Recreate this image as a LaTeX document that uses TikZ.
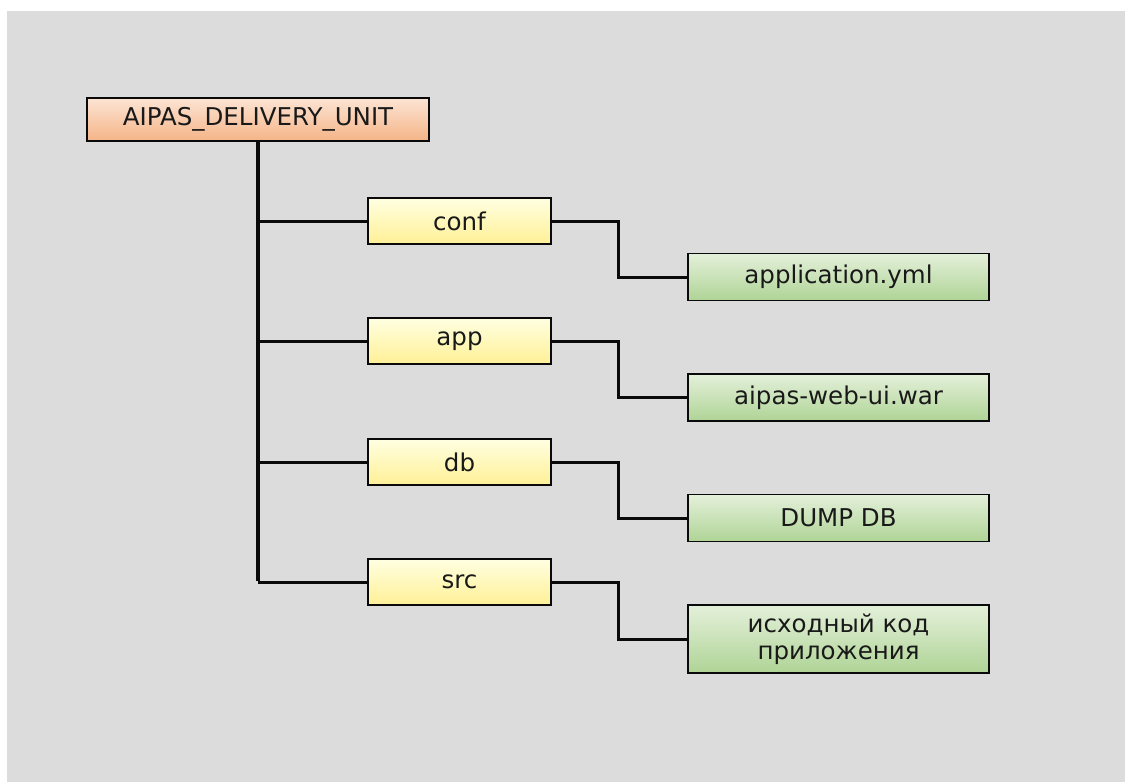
\documentclass[tikz,border=0pt]{standalone}
\usepackage{fontspec}
\setmainfont{DejaVu Sans}
\definecolor{bg}{RGB}{220,220,220}
\definecolor{rootTop}{RGB}{252,228,212}
\definecolor{rootBot}{RGB}{245,180,135}
\definecolor{yelTop}{RGB}{255,255,225}
\definecolor{yelBot}{RGB}{255,240,150}
\definecolor{grnTop}{RGB}{228,240,218}
\definecolor{grnBot}{RGB}{175,212,150}
\definecolor{txt}{RGB}{25,25,25}
\definecolor{ln}{RGB}{10,10,10}
\begin{document}
\begin{tikzpicture}[x=1pt,y=-1pt,
  box/.style={draw=ln,line width=1.8pt,inner sep=0pt,align=center,text=txt,
    font=\fontsize{24.5}{27}\selectfont},
  rootbox/.style={box,top color=rootTop,bottom color=rootBot,minimum width=342pt,minimum height=43pt},
  dirbox/.style={box,top color=yelTop,bottom color=yelBot,minimum width=183pt,minimum height=46pt},
  filebox/.style={box,top color=grnTop,bottom color=grnBot,minimum width=301pt,minimum height=47pt},
  trunk/.style={draw=ln,line width=4pt},
  branch/.style={draw=ln,line width=3pt},
]
\useasboundingbox (0,0) rectangle (1125,782);
\fill[white] (0,0) rectangle (1125,782);
\fill[bg] (7,11) rectangle (1125,782);

\node[rootbox] (root) at (258,119.5) {AIPAS\_DELIVERY\_UNIT};

\node[dirbox] (conf) at (459.5,221) {conf};
\node[dirbox] (app)  at (459.5,341) {app};
\node[dirbox] (db)   at (459.5,462) {db};
\node[dirbox] (src)  at (459.5,582) {src};

\node[filebox] (yml) at (838.5,277) {application.yml};
\node[filebox] (war) at (838.5,397.5) {aipas-web-ui.war};
\node[filebox] (dump) at (838.5,518) {DUMP DB};
\node[filebox,minimum height=68pt] (code) at (838.5,639) {исходный код\\приложения};

\coordinate (jx) at (618,0);

\draw[trunk] (root.south) -- ([yshift=1.5pt]root.south |- src.west);
\foreach \d in {conf,app,db,src}
  \draw[branch] (root.south |- \d.west) -- (\d.west);

\draw[branch] (conf.east) -- (conf.east -| jx) |- (yml.west);
\draw[branch] (app.east) -- (app.east -| jx) |- (war.west);
\draw[branch] (db.east) -- (db.east -| jx) |- (dump.west);
\draw[branch] (src.east) -- (src.east -| jx) |- (code.west);
\end{tikzpicture}
\end{document}
